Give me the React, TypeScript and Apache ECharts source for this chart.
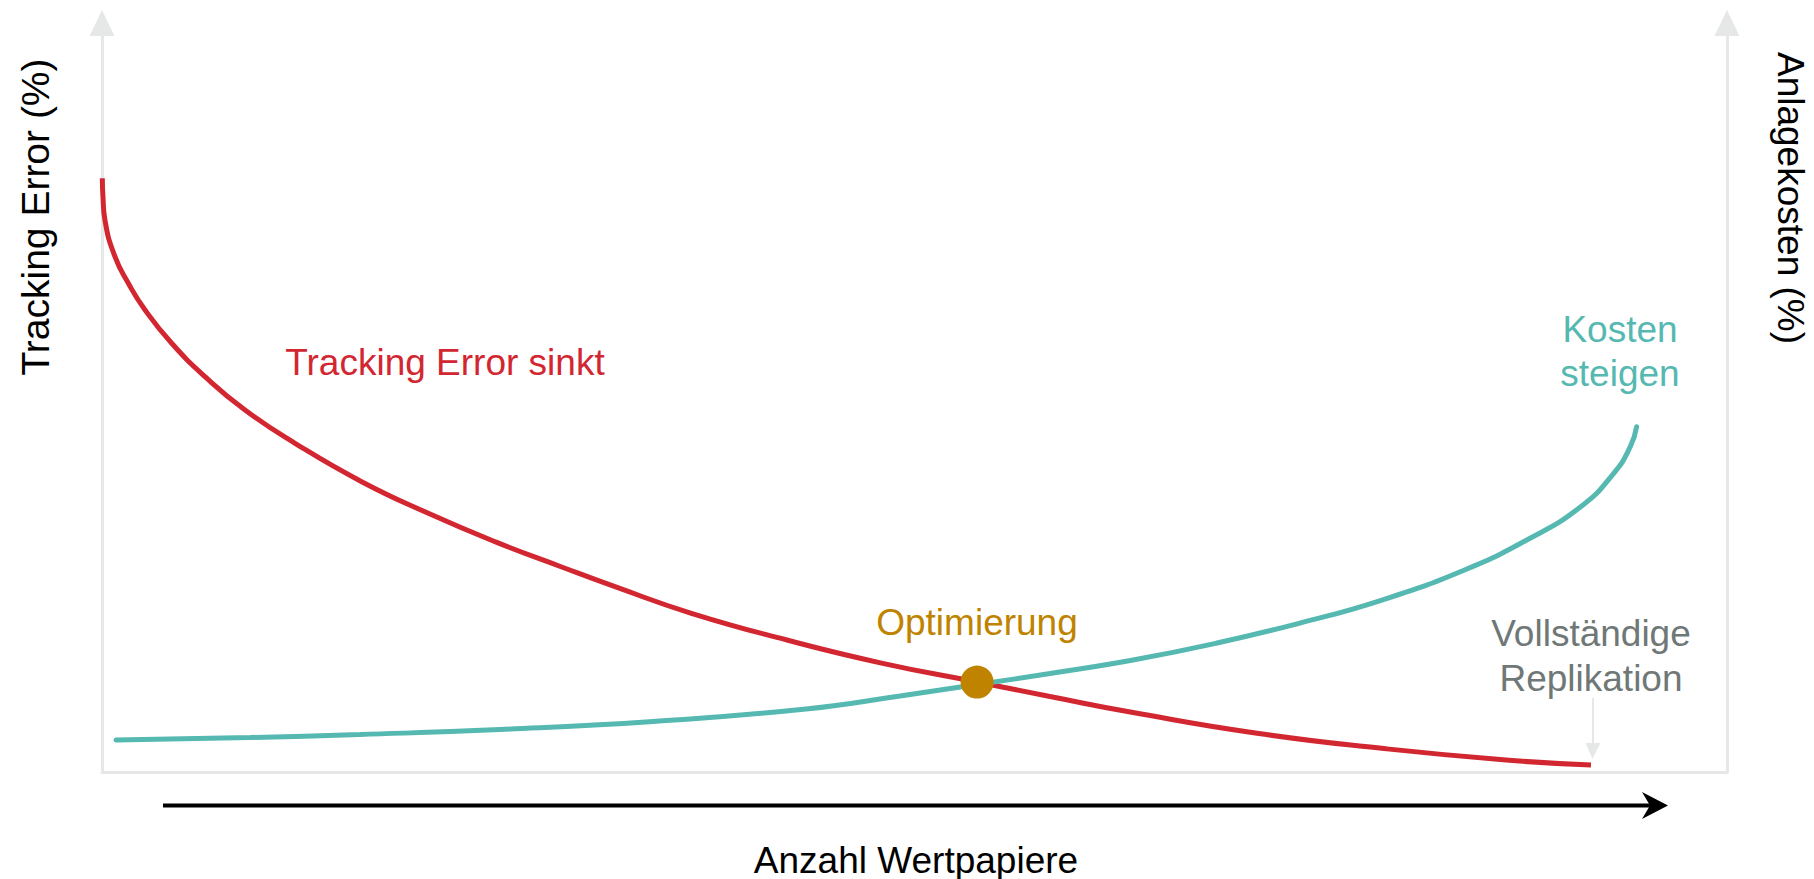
import React, { useEffect, useRef } from "react";
import * as echarts from "echarts";

// Tracking error curve (relative units, x: number of securities 0..100, y: 0..100)
const teX = [0.02, 0.06, 0.18, 0.8, 1.62, 2.65, 4.29, 6.34, 8.8, 11.88, 15.98, 20.08, 24.18, 28.29, 31.57, 36.27, 42.15, 48.04, 53.85, 58.34, 63.45, 71.08, 78.75, 86.4, 91.63];
const teY = [79.27, 76.77, 73.7, 68.8, 65.25, 61.68, 57.24, 52.78, 48.33, 43.89, 38.76, 34.54, 30.75, 27.37, 24.74, 21.19, 17.62, 14.51, 12.02, 10.08, 7.94, 5.17, 3.16, 1.6, 0.93];

// Cost curve
const costX = [0.86, 9.11, 15.88, 24.49, 33.91, 43.32, 49.11, 53.85, 58.34, 63.45, 68.55, 73.66, 78.77, 83.85, 87.68, 91.0, 93.03, 94.05, 94.44];
const costY = [4.27, 4.61, 5.01, 5.67, 6.74, 8.41, 10.15, 11.68, 13.15, 14.95, 17.18, 19.85, 22.96, 26.97, 30.97, 35.42, 39.88, 43.43, 46.1];

// Optimum point
const optimum = [53.85, 12.0];

const labels = {
  yLeft: "Tracking Error (%)",
  yRight: "Anlagekosten (%)",
  x: "Anzahl Wertpapiere",
  te: "Tracking Error sinkt",
  cost: "Kosten\nsteigen",
  opt: "Optimierung",
  full: "Vollständige\nReplikation",
};

const FONT = "'Liberation Sans', Arial, sans-serif";
const RED = "#d22731";
const TEAL = "#55b8b1";
const GOLD = "#c08300";
const GREYTXT = "#6f7777";
const AXIS = "#e6e8e8";

export default function App() {
  const ref = useRef<HTMLDivElement>(null);

  useEffect(() => {
    if (!ref.current) return;
    const chart = echarts.init(ref.current, undefined, { renderer: "svg" });
    const axisBase = {
      type: "value" as const,
      min: 0,
      max: 100,
      axisTick: { show: false },
      axisLabel: { show: false },
      splitLine: { show: false },
    };
    chart.setOption({
      animation: false,
      backgroundColor: "#ffffff",
      grid: { left: 102, right: 87, top: 23, bottom: 107, containLabel: false },
      xAxis: {
        ...axisBase,
        axisLine: { show: true, onZero: false, lineStyle: { color: AXIS, width: 3 } },
      },
      yAxis: [
        {
          ...axisBase,
          position: "left",
          axisLine: {
            show: true,
            onZero: false,
            symbol: ["none", "triangle"],
            symbolSize: [25, 26],
            lineStyle: { color: AXIS, width: 3 },
          },
        },
        {
          ...axisBase,
          position: "right",
          axisLine: {
            show: true,
            onZero: false,
            symbol: ["none", "triangle"],
            symbolSize: [25, 26],
            lineStyle: { color: AXIS, width: 3 },
          },
        },
      ],
      series: [
        {
          type: "line",
          data: teX.map((x, i) => [x, teY[i]]),
          showSymbol: false,
          smooth: 0.5,
          lineStyle: { color: RED, width: 5, cap: "butt" },
          z: 2,
        },
        {
          type: "line",
          data: costX.map((x, i) => [x, costY[i]]),
          showSymbol: false,
          smooth: 0.5,
          lineStyle: { color: TEAL, width: 5, cap: "round" },
          z: 3,
        },
        {
          type: "scatter",
          data: [optimum],
          symbolSize: 33,
          itemStyle: { color: GOLD, opacity: 1 },
          z: 4,
        },
      ],
      graphic: [
        {
          type: "text",
          x: 35,
          y: 217,
          rotation: Math.PI / 2,
          style: { text: labels.yLeft, font: `39px ${FONT}`, fill: "#000", align: "center", verticalAlign: "middle" },
        },
        {
          type: "text",
          x: 1790,
          y: 198,
          rotation: -Math.PI / 2,
          style: { text: labels.yRight, font: `37px ${FONT}`, fill: "#000", align: "center", verticalAlign: "middle" },
        },
        {
          type: "text",
          x: 916,
          y: 860,
          style: { text: labels.x, font: `37px ${FONT}`, fill: "#000", align: "center", verticalAlign: "middle" },
        },
        {
          type: "text",
          x: 445,
          y: 362,
          style: { text: labels.te, font: `37px ${FONT}`, fill: RED, align: "center", verticalAlign: "middle" },
        },
        {
          type: "text",
          x: 977,
          y: 622,
          style: { text: labels.opt, font: `37px ${FONT}`, fill: GOLD, align: "center", verticalAlign: "middle" },
        },
        {
          type: "text",
          x: 1620,
          y: 351,
          style: { text: labels.cost, font: `37px ${FONT}`, fill: TEAL, align: "center", verticalAlign: "middle", lineHeight: 44 },
        },
        {
          type: "text",
          x: 1591,
          y: 656,
          style: { text: labels.full, font: `37px ${FONT}`, fill: GREYTXT, align: "center", verticalAlign: "middle", lineHeight: 45 },
        },
        {
          type: "line",
          shape: { x1: 1593, y1: 698, x2: 1593, y2: 745 },
          style: { stroke: AXIS, lineWidth: 2 },
        },
        {
          type: "polygon",
          shape: { points: [[1585.5, 743], [1600.5, 743], [1592.5, 759]] },
          style: { fill: AXIS },
        },
        {
          type: "line",
          shape: { x1: 163, y1: 805.5, x2: 1652, y2: 805.5 },
          style: { stroke: "#000", lineWidth: 4 },
        },
        {
          type: "polygon",
          shape: { points: [[1668, 805.5], [1642, 792], [1650, 805.5], [1642, 819]] },
          style: { fill: "#000" },
        },
      ],
    });
    return () => chart.dispose();
  }, []);

  return (
    <div
      ref={ref}
      style={{ position: "fixed", left: 0, top: 0, width: 1814, height: 879, background: "#fff" }}
    />
  );
}
